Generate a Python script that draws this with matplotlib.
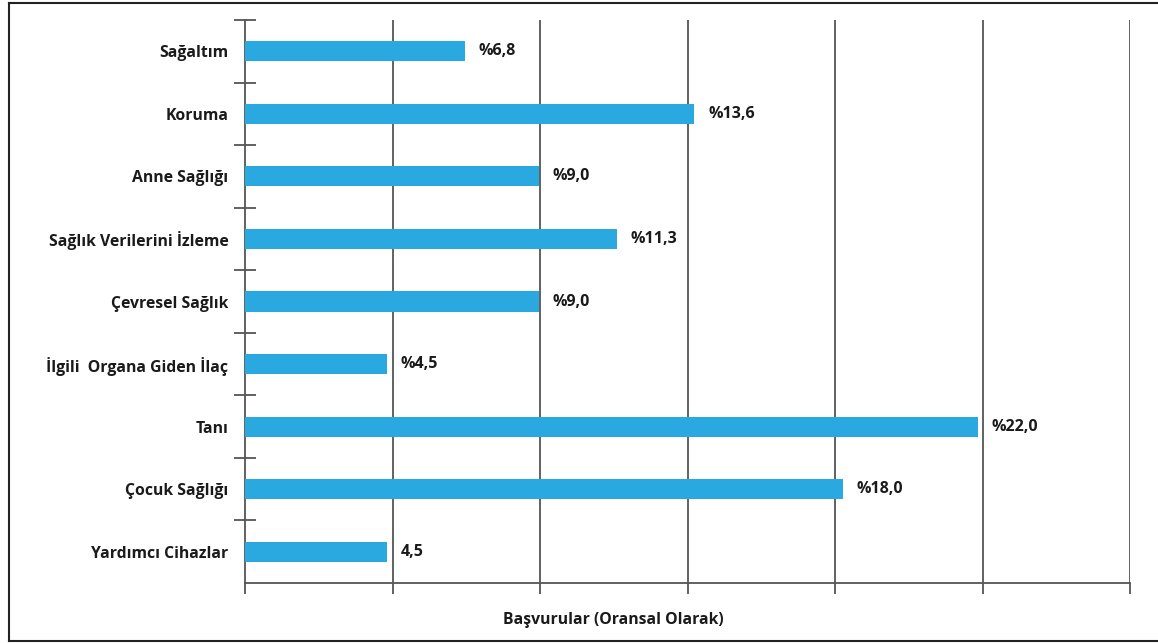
import numpy as np
import matplotlib.pyplot as plt
from matplotlib.lines import Line2D

categories = ["Sağaltım", "Koruma", "Anne Sağlığı", "Sağlık Verilerini İzleme",
              "Çevresel Sağlık", "İlgili  Organa Giden İlaç", "Tanı",
              "Çocuk Sağlığı", "Yardımcı Cihazlar"]
values = [6.8, 13.6, 9.0, 11.3, 9.0, 4.5, 22.0, 18.0, 4.5]
labels = ["%6,8", "%13,6", "%9,0", "%11,3", "%9,0", "%4,5", "%22,0", "%18,0", "4,5"]

plt.rcParams['font.family'] = ['Open Sans', 'DejaVu Sans']

W, H = 1158, 643
fig = plt.figure(figsize=(W / 100, H / 100), dpi=100)
ax = fig.add_axes([245 / W, 1 - 583 / H, (1130 - 245) / W, (583 - 20) / H])

grey = "#555555"
txt = "#1a1a1a"
ypos = np.arange(len(categories))
ax.barh(ypos, values, height=0.32, color="#29A9E0", zorder=3)
for y, v, lab in zip(ypos, values, labels):
    ax.annotate(lab, (v, y), xytext=(10, 0), textcoords="offset points",
                va="center", ha="left", fontsize=11.5, fontweight="bold", color=txt)

x0, x1 = 0.3, 26.5
ax.set_xlim(x0, x1)
ax.set_ylim(len(categories) - 0.5, -0.5)

gx = np.linspace(x0, x1, 7)
ax.set_xticks(gx)
ax.set_xticklabels([])
ax.tick_params(axis="x", length=8, width=1.3, color=grey, direction="out")
for x in gx[1:]:
    ax.axvline(x, color=grey, lw=1.3, zorder=1)

ax.set_yticks(ypos)
ax.set_yticklabels(categories, fontsize=11.3, fontweight="bold", color=txt)
ax.tick_params(axis="y", which="major", length=0, pad=12)
ax.set_yticks(np.arange(-0.5, len(categories) - 0.5, 1), minor=True)
ax.tick_params(axis="y", which="minor", length=16, width=1.3, color=grey, direction="inout")

for s in ["top", "right"]:
    ax.spines[s].set_visible(False)
for s in ["left", "bottom"]:
    ax.spines[s].set_color(grey)
    ax.spines[s].set_linewidth(1.3)

fig.text(613 / W, 1 - 620 / H, "Başvurular (Oransal Olarak)", ha="center", va="center",
         fontsize=11.3, fontweight="bold", color=txt)

# frame around the figure (left, top, bottom)
kw = dict(transform=fig.transFigure, color="#222222", lw=1.5)
fig.add_artist(Line2D([8.5 / W, 8.5 / W], [1 - 3 / H, 1 - 641 / H], **kw))
fig.add_artist(Line2D([8.5 / W, 1], [1 - 3 / H, 1 - 3 / H], **kw))
fig.add_artist(Line2D([8.5 / W, 1], [1 - 641 / H, 1 - 641 / H], **kw))

fig.savefig("out.png", dpi=100)
